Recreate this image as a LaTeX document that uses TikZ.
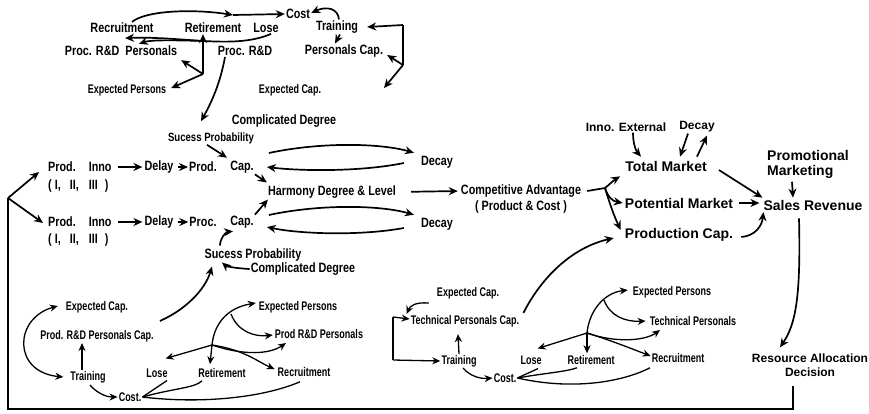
\documentclass[tikz,border=0pt]{standalone}
\usepackage{fontspec}
\usetikzlibrary{arrows.meta}
\newfontfamily\fA{Liberation Sans}[FakeStretch=0.8]
\newfontfamily\fC{Liberation Sans}[FakeStretch=0.72]
\newfontfamily\fB{Liberation Sans}
\begin{document}
\begin{tikzpicture}[x=1pt,y=-1pt,
  la/.style={inner sep=1pt,font=\fA\fontsize{13.5}{15}\selectfont\bfseries},
  lsm/.style={inner sep=1pt,font=\fA\fontsize{12}{14}\selectfont\bfseries},
  lc/.style={inner sep=1pt,font=\fC\fontsize{12.5}{14}\selectfont\bfseries},
  lb/.style={inner sep=1pt,font=\fB\fontsize{14}{16}\selectfont\bfseries},
  lbs/.style={inner sep=1pt,font=\fB\fontsize{12}{14}\selectfont\bfseries},
  ln/.style={line width=1.7pt},
  arr/.style={ln,-{Stealth[length=9pt,width=8pt]}},
  tln/.style={line width=1.3pt},
  tarr/.style={tln,-{Stealth[length=8pt,width=7pt]}}]
\useasboundingbox (0,0) rectangle (869,413);

% ---------- top cluster ----------
\node[la] (recr) at (122,28) {Recruitment};
\node[la] (reti) at (213,28) {Retirement};
\node[la] (lose) at (266,28) {Lose};
\node[la] (cost) at (298,14) {Cost};
\node[la] (train) at (337,27) {Training};
\node[la] (procp) at (121,51) {Proc. R\&D\ \ Personals};
\node[la] (procrd) at (245,51) {Proc. R\&D};
\node[la] (pcap) at (344,51) {Personals Cap.};
\node[lc] (expp) at (127,90) {Expected Persons};
\node[lc] (expc) at (290,90) {Expected Cap.};

\coordinate (jA) at (203,41);
\coordinate (jB) at (203,74);
\coordinate (jC) at (403,65);
\coordinate (jD) at (403,25);
\coordinate (jE) at (384,88);
\coordinate (jF) at (233,15);

\draw[arr] ([xshift=10pt]recr.north) .. controls (147,10) and (195,9) .. (jF);
\draw[arr] (jF) -- (cost.west);
\draw[arr] ([xshift=2pt]train.north) .. controls (338,8) and (326,6) .. ([yshift=1pt]cost.east);
\draw[ln] ([xshift=5pt]lose.south) .. controls (250,43) and (225,42) .. (jA);
\draw[arr] (jA) .. controls (175,39) and (150,37) .. ([xshift=3pt,yshift=-4pt]recr.south);
\draw[arr] (jA) .. controls (170,40) and (150,40) .. ([xshift=18pt,yshift=1pt]procp.north);
\draw[arr] (jB) -- ([xshift=-10pt]reti.south);
\draw[arr] (jB) -- ([xshift=3pt,yshift=-3pt]procp.south east);
\draw[arr] (jB) -- ([xshift=4pt,yshift=2pt]expp.east);
\draw[ln] (jC) -- (jD);
\draw[arr] (jD) -- ([xshift=8pt]train.east);
\draw[arr] (jC) -- ([xshift=3pt,yshift=-4pt]pcap.east);
\draw[arr] (jC) -- (jE);
\draw[arr] ([xshift=3pt]train.south) -- ([xshift=-9pt]pcap.north);

% ---------- middle ----------
\node[la] (cdeg1) at (284,121) {Complicated Degree};
\node[lsm] (sp1) at (211,138) {Sucess Probability};
\draw[arr] ([xshift=-20pt]procrd.south) .. controls (220,85) and (210,105) .. ([xshift=-10pt,yshift=10pt]sp1.north);

\node[la,anchor=west] (pi1) at (47,167) {Prod.\hspace{13pt}Inno};
\node[la,anchor=west] (pi1b) at (47,186) {(\hspace{3pt}I,\hspace{9pt}II,\hspace{10pt}III\hspace{7pt})};
\node[la] (dl1) at (159,167) {Delay};
\node[la] (prod) at (203,167) {Prod.};
\node[la] (cap1) at (242,167) {Cap.};

\node[la,anchor=west] (pi2) at (47,222) {Prod.\hspace{13pt}Inno};
\node[la,anchor=west] (pi2b) at (47,240) {(\hspace{3pt}I,\hspace{9pt}II,\hspace{10pt}III\hspace{7pt})};
\node[la] (dl2) at (159,222) {Delay};
\node[la] (proc) at (203,222) {Proc.};
\node[la] (cap2) at (242,222) {Cap.};

\node[la] (harm) at (332,192) {Harmony Degree \& Level};
\node[la] (dec1) at (437,162) {Decay};
\node[la] (dec2) at (437,224) {Decay};
\node[la] (comp) at (521,191) {Competitive Advantage};
\node[la] (comp2) at (521,207) {( Product \& Cost )};
\node[la] (sp2) at (253,255) {Sucess Probability};
\node[la] (cdeg2) at (303,269) {Complicated Degree};

\draw[arr,shorten <=5pt,shorten >=1pt] (pi1.east) -- (dl1.west);
\draw[arr,shorten <=3pt] (dl1.east) -- (prod.west);
\draw[arr,shorten <=5pt,shorten >=1pt] (pi2.east) -- (dl2.west);
\draw[arr,shorten <=3pt] (dl2.east) -- (proc.west);

\draw[arr] ([xshift=-4pt]sp1.south) -- ([xshift=-15pt,yshift=2pt]cap1.north);
\draw[arr] (cap1.south east) -- ([yshift=2pt]harm.north west);
\draw[arr] (cap2.north east) -- ([xshift=1pt]harm.south west);

\draw[arr] ([xshift=14pt,yshift=14pt]cap1.east) .. controls (320,142) and (380,143) .. ([xshift=-6pt,yshift=2pt]dec1.north west);
\draw[arr] ([xshift=-16pt,yshift=-1pt]dec1.west) .. controls (360,172) and (300,171) .. ([xshift=12pt]cap1.east);
\draw[arr] ([xshift=14pt,yshift=7pt]cap2.east) .. controls (320,204) and (380,205) .. ([xshift=-6pt,yshift=2pt]dec2.north west);
\draw[arr] ([xshift=-16pt,yshift=-4pt]dec2.west) .. controls (360,236) and (300,234) .. ([xshift=12pt,yshift=-5pt]cap2.east);

\draw[arr,shorten <=14pt,shorten >=2pt] (harm.east) -- (comp.west);

\draw[arr] ([xshift=-33pt,yshift=2pt]sp2.north) .. controls (220,238) and (226,232) .. ([xshift=-9pt,yshift=-2pt]cap2.south);
\draw[arr] (cdeg2.west) .. controls (232,268) and (226,266) .. ([xshift=-31pt,yshift=0pt]sp2.south);

% left feedback
\coordinate (jL) at (8,198);
\coordinate (jLB) at (8,409);
\coordinate (jR) at (793,409);
\draw[arr] (jL) -- ([xshift=-8pt,yshift=-5pt]pi1.west);
\draw[arr] (jL) -- ([xshift=-4pt,yshift=-1pt]pi2.west);

% ---------- right ----------
\node[lbs] (inno) at (626,127) {Inno. External};
\node[lbs] (dec3) at (697,127) {Decay};
\node[lb] (tm) at (666,166) {Total Market};
\node[lb,anchor=west] (promo) at (766,155) {Promotional};
\node[lb,anchor=west] (promo2) at (766,172) {Marketing};
\node[lb] (pm) at (679,203) {Potential Market};
\node[lb] (sr) at (813,205) {Sales Revenue};
\node[lb] (pc) at (679,235) {Production Cap.};
\node[lbs] (ra) at (810,358) {Resource Allocation};
\node[lbs] (ra2) at (810,372) {Decision};

\coordinate (jV) at (605,188);
\draw[ln] ([xshift=5pt]comp.east) -- (jV);
\draw[arr] (jV) .. controls (610,184) and (614,180) .. ([xshift=-4pt,yshift=-4pt]tm.south west);
\draw[arr] (jV) .. controls (608,197) and (612,201) .. ([xshift=-1pt]pm.west);
\draw[arr] (jV) .. controls (610,205) and (615,218) .. ([xshift=-3pt,yshift=5pt]pc.west);
\draw[arr] ([xshift=7pt]inno.south) .. controls (633,146) and (637,152) .. ([xshift=-25pt,yshift=3pt]tm.north);
\draw[arr] ([xshift=-9pt]dec3.south) -- ([xshift=14pt,yshift=3pt]tm.north);
\draw[arr] ([xshift=31pt,yshift=3pt]tm.north) .. controls (701,148) and (704,142) .. ([xshift=10pt,yshift=-2pt]dec3.south);
\draw[arr] ([xshift=11pt,yshift=-4pt]tm.east) -- ([yshift=1pt]sr.north west);
\draw[arr,shorten <=5pt,shorten >=3pt] (pm.east) -- (pm.east -| sr.west);
\draw[arr] ([xshift=7pt,yshift=-2pt]pc.east) .. controls (755,236) and (762,226) .. ([xshift=1pt,yshift=-7pt]sr.west);
\draw[arr] ([xshift=26pt,yshift=-2pt]promo2.south west) -- ([xshift=-20pt,yshift=1pt]sr.north);
\draw[arr] ([xshift=-14pt,yshift=-7pt]sr.south) .. controls (801,300) and (795,325) .. ([xshift=-30pt,yshift=5pt]ra.north);
\draw[ln] ([xshift=-17pt,yshift=-8pt]ra2.south) -- (jR) -- (jLB) -- (jL);

% ---------- bottom-left cluster ----------
\node[lc] (ec1) at (97,307) {Expected Cap.};
\node[lc] (rdc) at (97,336) {Prod. R\&D Personals Cap.};
\node[lc] (tr1) at (88,377) {Training};
\node[lc] (co1) at (130,397) {Cost.};
\node[lc] (lo1) at (157,373) {Lose};
\node[lc] (re1) at (222,373) {Retirement};
\node[lc] (rc1) at (304,372) {Recruitment};
\node[lc] (ep1) at (298,307) {Expected Persons};
\node[lc] (rdp) at (319,334) {Prod R\&D Personals};

\draw[arr] ([xshift=5pt,yshift=8pt]rdc.north east) .. controls (185,310) and (205,290) .. ([xshift=-41pt,yshift=-4pt]sp2.south);

\draw[tln,{Stealth[length=8pt,width=7pt]}-{Stealth[length=8pt,width=7pt]}] ([xshift=-7pt,yshift=1pt]ec1.west) .. controls (14,318) and (12,372) .. ([xshift=-6pt]tr1.west);
\draw[tarr] ([xshift=-6pt]tr1.north) -- ([xshift=-15pt]rdc.south);
\draw[tarr] ([xshift=2pt,yshift=-1pt]tr1.south) .. controls (96,392) and (105,397) .. (co1.west);

\coordinate (jM) at (212,345);
\coordinate (jN) at (286,343);
\coordinate (jO) at (231,314);
\draw[tarr] (jM) -- ([xshift=-3pt,yshift=9pt]lo1.north east);
\draw[tarr] (jM) -- ([xshift=-12pt,yshift=3pt]re1.north);
\draw[tarr] (jM) .. controls (245,350) and (258,362) .. ([xshift=-2pt,yshift=3pt]rc1.west);
\draw[tarr] (jM) .. controls (245,356) and (270,354) .. (jN);
\draw[tarr] (jM) .. controls (214,325) and (226,308) .. ([xshift=-2pt,yshift=4pt]ep1.west);
\draw[tarr] (jO) .. controls (238,332) and (255,337) .. ([xshift=-1pt,yshift=-1pt]rdp.west);
\draw[tln] (co1.east) -- ([xshift=10pt,yshift=-2pt]lo1.south);
\draw[tln] (co1.east) .. controls (175,388) and (195,388) .. ([xshift=-20pt,yshift=-2pt]re1.south);
\draw[tln] (co1.east) .. controls (200,404) and (262,398) .. ([xshift=-4pt,yshift=-4pt]rc1.south);

% ---------- bottom-right cluster ----------
\node[lc] (ec2) at (468,293) {Expected Cap.};
\node[lc] (tpc) at (465,321) {Technical Personals Cap.};
\node[lc] (tr2) at (459,361) {Training};
\node[lc] (co2) at (505,378) {Cost.};
\node[lc] (lo2) at (531,360) {Lose};
\node[lc] (re2) at (591,360) {Retirement};
\node[lc] (rc2) at (678,358) {Recruitment};
\node[lc] (ep2) at (672,292) {Expected Persons};
\node[lc] (tp) at (693,321) {Technical Personals};

\coordinate (jP) at (393,360);
\coordinate (jQ) at (393,317);
\draw[tln] (jQ) -- (jP);
\draw[tarr] (jQ) -- ([yshift=2pt]tpc.west);
\draw[tarr] (jP) -- (tr2.west);
\draw[tarr] ([xshift=-7pt,yshift=-10pt]ec2.west) .. controls (415,302) and (410,306) .. ([xshift=-3pt,yshift=7pt]tpc.west);
\draw[tarr] (tr2.north) -- ([xshift=-7pt,yshift=-6pt]tpc.south);
\draw[tarr] ([xshift=4pt]tr2.south) .. controls (470,376) and (480,379) .. (co2.west);
\draw[arr] ([xshift=3pt,yshift=8pt]tpc.east) .. controls (540,280) and (570,248) .. ([xshift=-10pt,yshift=-3pt]pc.west);

\coordinate (jS) at (587,333);
\coordinate (jT) at (660,330);
\coordinate (jU) at (604,300);
\draw[tarr] (jS) -- ([xshift=-5pt,yshift=6pt]lo2.north east);
\draw[tarr] (jS) -- ([xshift=-4pt,yshift=1pt]re2.north);
\draw[tarr] (jS) .. controls (610,340) and (635,350) .. ([yshift=2pt]rc2.west);
\draw[tarr] (jS) .. controls (615,343) and (645,341) .. (jT);
\draw[tarr] (jS) .. controls (589,312) and (603,293) .. ([xshift=-4pt,yshift=2pt]ep2.west);
\draw[tarr] (jU) .. controls (610,316) and (625,322) .. ([xshift=-3pt]tp.west);
\draw[tln] (co2.east) -- ([xshift=7pt,yshift=-3pt]lo2.south);
\draw[tln] (co2.east) .. controls (545,373) and (565,372) .. ([xshift=-14pt,yshift=-2pt]re2.south);
\draw[tln] (co2.east) .. controls (570,390) and (620,383) .. ([xshift=-28pt,yshift=-4pt]rc2.south);
\end{tikzpicture}
\end{document}
